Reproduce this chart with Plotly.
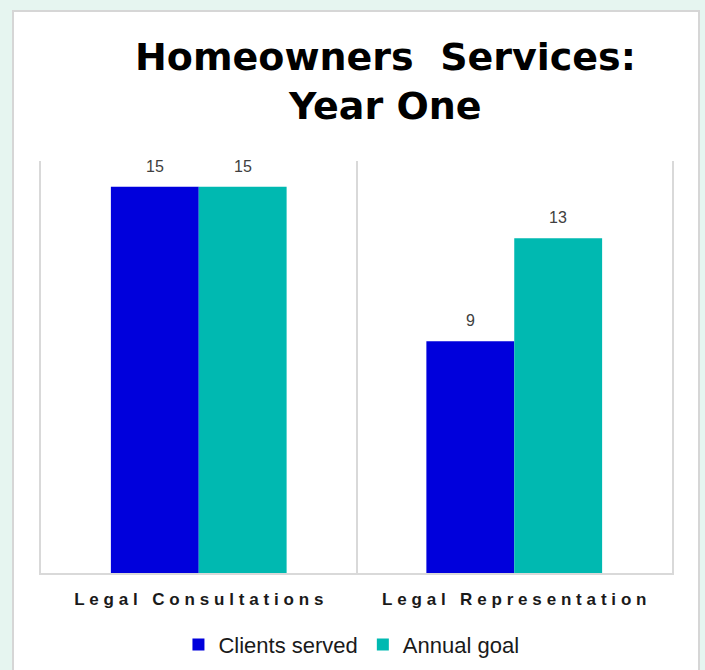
import plotly.graph_objects as go

# Homeowners services, first year: clients served against the annual goal
categories = ["Legal Consultations", "Legal Representation"]
clients_served = [15, 9]
annual_goal = [15, 13]
series_names = ["Clients served", "Annual goal"]
title_lines = ["Homeowners  Services:", "Year One"]

BLUE = "#0000DC"
TEAL = "#00B9B1"
GRID = "#D9D9D9"
MINT = "#E6F5F0"

TRACK = "\u2009\u200a"


def spaced(text, sep):
    """Widen the tracking of a label by putting a narrow space between letters."""
    words = [sep.join(w) for w in text.split(" ")]
    return (sep + " " + sep).join(words)


tick_text = [spaced(c, TRACK) for c in categories]

fig = go.Figure()
for name, values, color in [(series_names[0], clients_served, BLUE),
                            (series_names[1], annual_goal, TEAL)]:
    fig.add_trace(go.Bar(
        name=name, x=categories, y=values, marker=dict(color=color, line_width=0),
    ))

# value labels above each bar, offset to the bar's half of the group
half = 44
for values, shift in [(clients_served, -half), (annual_goal, half)]:
    for cat, v in zip(categories, values):
        fig.add_annotation(
            x=cat, y=v, text=str(v), showarrow=False, xshift=shift, yshift=10,
            yanchor="bottom", font=dict(family="Liberation Sans", size=16, color="#404040"),
        )

# two-line heading
for line, ypix in zip(title_lines, [57, 106]):
    fig.add_annotation(
        text=line, xref="paper", yref="paper", x=(385 - 41) / 631,
        y=(573 - ypix) / 412, xanchor="center", yanchor="middle", showarrow=False,
        font=dict(family="DejaVu Sans", size=38, color="black", weight="bold"),
    )

# white card over the mint page
fig.add_shape(type="rect", xref="paper", yref="paper", layer="below",
              x0=-0.0444, x1=1.0428, y0=-0.30, y1=1.364,
              fillcolor="white", line=dict(color="#D6D6D6", width=2))

fig.update_layout(
    width=705, height=670,
    margin=dict(l=41, r=33, t=161, b=97, autoexpand=False),
    paper_bgcolor=MINT, plot_bgcolor="rgba(0,0,0,0)",
    barmode="group", bargap=0.443, bargroupgap=0,
    xaxis=dict(tickvals=categories, ticktext=tick_text, tickson="boundaries",
               showgrid=True, gridcolor=GRID, gridwidth=2,
               showline=True, linecolor=GRID, linewidth=2, ticks="",
               ticklabelstandoff=10,
               tickfont=dict(family="Liberation Sans", size=17, color="#1A1A1A", weight="bold")),
    yaxis=dict(range=[0, 16], showgrid=False, zeroline=False, showticklabels=False,
               showline=True, mirror=True, linecolor=GRID, linewidth=2),
    legend=dict(orientation="h", x=0.492, xanchor="center", y=-0.123, yanchor="top",
                font=dict(family="Liberation Sans", size=22, color="#1A1A1A"),
                bgcolor="rgba(0,0,0,0)", itemwidth=30, tracegroupgap=0,
                entrywidth=0),
    showlegend=True,
)

fig.write_html("out.html")
